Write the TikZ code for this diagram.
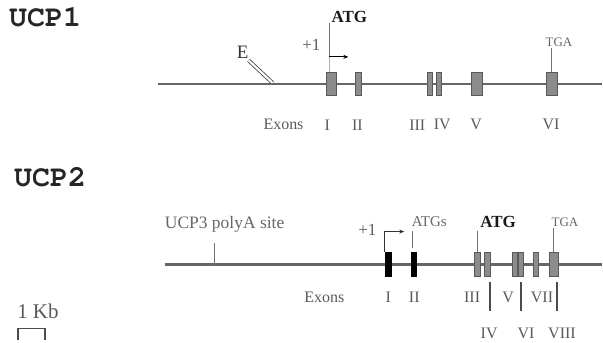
\documentclass[tikz,border=0pt]{standalone}
\usepackage{fontspec}
\setmainfont{Liberation Serif}
\newcommand{\titlefont}{\fontencoding{OT1}\fontfamily{pcr}\fontseries{b}\selectfont}
\usetikzlibrary{positioning}
\usetikzlibrary{arrows.meta}

\begin{document}
\begin{tikzpicture}[x=1pt, y=-1pt,
				 titlenode/.style={anchor=west, inner sep=0pt, text=black!85, font=\titlefont\fontsize{30}{30}\selectfont},
				 labelnode/.style={inner sep=0pt, text=black!65, font=\fontsize{16}{16}\selectfont},
				 smallnode/.style={inner sep=0pt, text=black!60, font=\fontsize{13}{13}\selectfont},
				 atgnode/.style={inner sep=0pt, text=black!90, font=\bfseries\fontsize{17}{17}\selectfont},
				 exonnode/.style={rectangle, draw=black!65, fill=black!45, line width=0.8pt, minimum width=10pt, minimum height=23pt, inner sep=0pt},
				 blackexon/.style={rectangle, draw=black, fill=black, minimum width=6pt, minimum height=24pt, inner sep=0pt},
				 geneline/.style={draw=black!60, line width=2.2pt},
				 tickline/.style={draw=black!55, line width=0.8pt},
				 barline/.style={draw=black!70, line width=1.6pt},
				 ]
				 % Nodes
				 \node[titlenode]                            (title_ucp1)          at (9, 18)         {UCP1};
				 \node[titlenode]                            (title_ucp2)          at (14, 178)       {UCP2};

				 % UCP1 gene
				 \coordinate                                 (start_ucp1)          at (158, 84);
				 \coordinate                                 (end_ucp1)            at (603, 84);
				 \coordinate                                 (enh_ucp1)            at (273, 83);
				 \coordinate                                 (tss_ucp1)            at (330, 57);
				 \node[labelnode, text=black!80, font=\fontsize{19}{19}\selectfont] (E_ucp1) at (243, 52) {E};
				 \node[atgnode]                              (atg_ucp1)            at (350, 17)       {ATG};
				 \node[labelnode, font=\fontsize{17}{17}\selectfont] (plus_ucp1)   at (312, 45)       {+1};
				 \node[smallnode]                            (tga_ucp1)            at (560, 42)       {TGA};
				 \node[labelnode]                            (exons_ucp1)          at (284, 125)      {Exons};
				 \node[labelnode]                            (lI_ucp1)             at (328, 125)      {I};
				 \node[labelnode]                            (lII_ucp1)            at (358, 125)      {II};
				 \node[labelnode]                            (lIII_ucp1)           at (418, 125)      {III};
				 \node[labelnode]                            (lIV_ucp1)            at (443, 125)      {IV};
				 \node[labelnode]                            (lV_ucp1)             at (477, 125)      {V};
				 \node[labelnode]                            (lVI_ucp1)            at (552, 125)      {VI};

				 % UCP2 gene
				 \coordinate                                 (start_ucp2)          at (165, 265);
				 \coordinate                                 (end_ucp2)            at (603, 265);
				 \coordinate                                 (polya_ucp2)          at (215, 265);
				 \coordinate                                 (tss_ucp2)            at (385, 232);
				 \node[smallnode, font=\fontsize{17.5}{17.5}\selectfont] (polya_lab) at (225, 225)    {UCP3 polyA site};
				 \node[labelnode, font=\fontsize{17}{17}\selectfont] (plus_ucp2)   at (368, 230)      {+1};
				 \node[smallnode, font=\fontsize{15}{15}\selectfont] (atgs_ucp2)   at (430, 222)      {ATGs};
				 \node[atgnode]                              (atg_ucp2)            at (499, 222)      {ATG};
				 \node[smallnode]                            (tga_ucp2)            at (566, 223)      {TGA};
				 \node[labelnode]                            (exons_ucp2)          at (325, 298)      {Exons};
				 \node[labelnode]                            (lI_ucp2)             at (389, 298)      {I};
				 \node[labelnode]                            (lII_ucp2)            at (415, 298)      {II};
				 \node[labelnode]                            (lIII_ucp2)           at (473, 298)      {III};
				 \node[labelnode]                            (lV_ucp2)             at (509, 298)      {V};
				 \node[labelnode]                            (lVII_ucp2)           at (543, 298)      {VII};
				 \node[labelnode]                            (lIV_ucp2)            at (490, 334)      {IV};
				 \node[labelnode]                            (lVI_ucp2)            at (527, 334)      {VI};
				 \node[labelnode]                            (lVIII_ucp2)          at (563, 334)      {VIII};
				 \coordinate                                 (barA_top)            at (491, 283);
				 \coordinate                                 (barB_top)            at (522, 283);
				 \coordinate                                 (barC_top)            at (558, 283);

				 % scale
				 \node[labelnode, font=\fontsize{21}{21}\selectfont] (scale_lab)   at (38, 312)       {1 Kb};
				 \coordinate                                 (scale_left)          at (18, 329);
				 \coordinate                                 (scale_right)         at (45, 329);

				 % Lines
				 \draw[geneline] (start_ucp1) -- (end_ucp1);
				 \draw[geneline] (start_ucp2) -- (end_ucp2);

				 % Exons (on top of the lines)
				 \node[exonnode]                             (exI_ucp1)            at (332, 84)       {};
				 \node[exonnode, minimum width=6pt]          (exII_ucp1)           at (359.5, 84)     {};
				 \node[exonnode, minimum width=5pt]          (exIII_ucp1)          at (430.5, 84)     {};
				 \node[exonnode, minimum width=5pt]          (exIV_ucp1)           at (439.5, 84)     {};
				 \node[exonnode, minimum width=11pt]         (exV_ucp1)            at (477.5, 84)     {};
				 \node[exonnode, minimum width=11pt]         (exVI_ucp1)           at (552.5, 84)     {};
				 \node[blackexon]                            (exI_ucp2)            at (389, 265)      {};
				 \node[blackexon, minimum width=5pt]         (exII_ucp2)           at (414.5, 265)    {};
				 \node[exonnode, minimum width=6pt, minimum height=24pt]  (exIII_ucp2)  at (478, 265)  {};
				 \node[exonnode, minimum width=6pt, minimum height=24pt]  (exIV_ucp2)   at (488, 265)  {};
				 \node[exonnode, minimum width=5pt, minimum height=24pt]  (exV_ucp2)    at (516, 265)  {};
				 \node[exonnode, minimum width=5pt, minimum height=24pt]  (exVI_ucp2)   at (521.5, 265) {};
				 \node[exonnode, minimum width=5pt, minimum height=24pt]  (exVII_ucp2)  at (536.5, 265) {};
				 \node[exonnode, minimum width=9pt, minimum height=24pt]  (exVIII_ucp2) at (554.5, 265) {};

				 \draw[black!75, line width=0.8pt, double, double distance=2.2pt] (E_ucp1.south east) ++(0,2) -- (enh_ucp1);
				 \draw[tickline] (atg_ucp1.south -| tss_ucp1) -- (tss_ucp1);
				 \draw[draw=black!30, line width=0.8pt] (tss_ucp1) -- (tss_ucp1 |- exI_ucp1.north);
				 \draw[black, line width=0.8pt, -{Stealth[length=5pt, width=4pt]}] (tss_ucp1) -- ++(19, 0);
				 \draw[tickline] (tga_ucp1.south -| exVI_ucp1) ++(0,2) -- (exVI_ucp1.north);

				 \draw[tickline] (polya_ucp2) -- ++(0, -22);
				 \draw[black!80, line width=1pt] (exI_ucp2.north west) ++(-1, 0) |- (tss_ucp2);
				 \draw[black!80, line width=1pt, -{Stealth[length=5pt, width=4pt]}] (tss_ucp2) -- ++(20, 0);
				 \draw[tickline] (atgs_ucp2.south -| exII_ucp2) ++(-1, 4) -- ++(0, 17);
				 \draw[tickline] (atg_ucp2.south -| exIII_ucp2) ++(0, 4) -- (exIII_ucp2.north);
				 \draw[tickline] (tga_ucp2.south -| exVIII_ucp2) ++(0, 1) -- (exVIII_ucp2.north);
				 \foreach \bar in {barA_top, barB_top, barC_top} {
				   \draw[barline] (\bar) -- ++(0, 29);
				 }
				 \draw[black!70, line width=1.2pt] (scale_left) ++(0, 12) -- (scale_left) -- (scale_right) -- ++(0, 12);
				 \useasboundingbox (0, 0) rectangle (603, 343);
			\end{tikzpicture}
\end{document}
